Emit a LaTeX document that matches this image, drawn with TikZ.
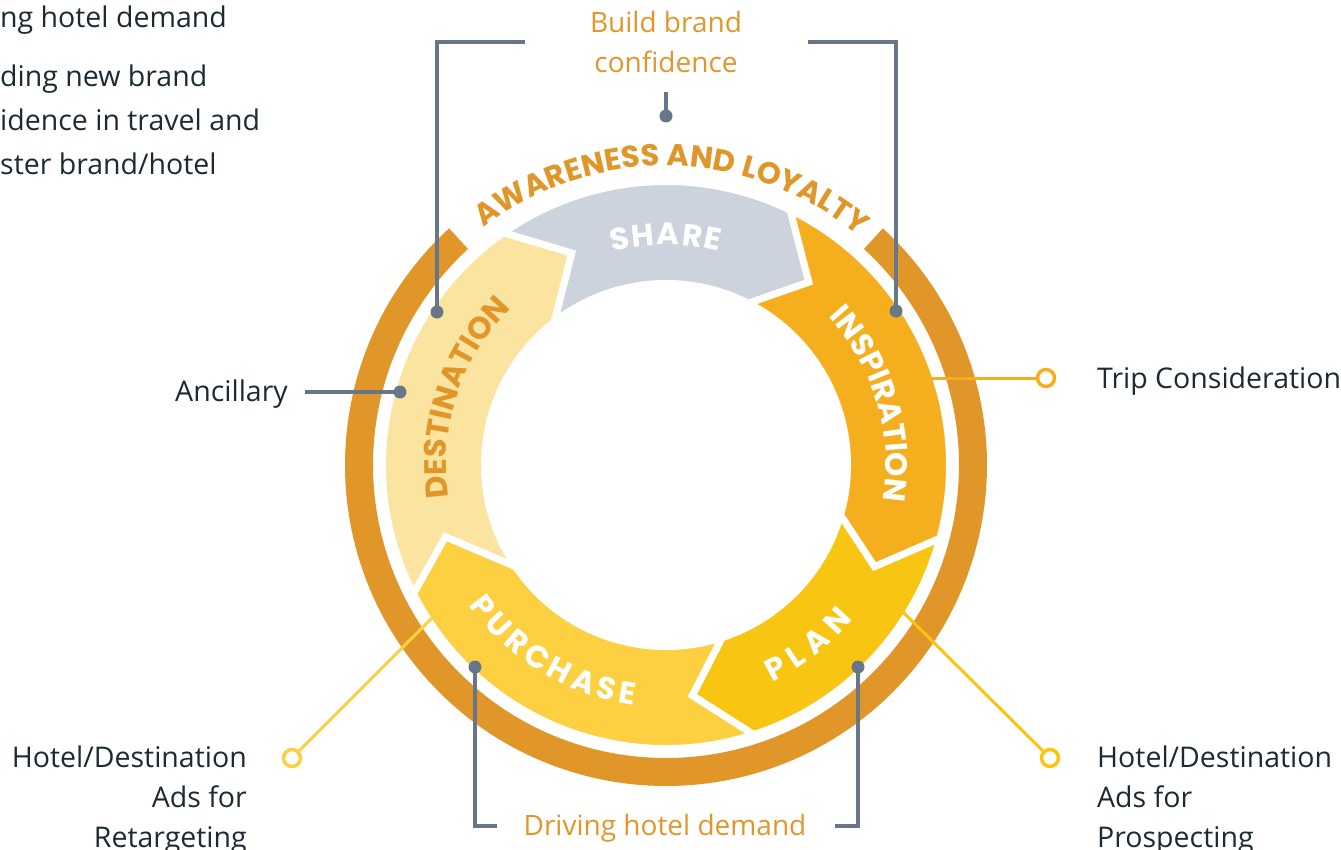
\documentclass[tikz,border=0pt]{standalone}
\usepackage{fontspec}
\setmainfont{Open Sans}
\newfontfamily\geofont{Poppins}
\usetikzlibrary{decorations.text}

\definecolor{ringor}{HTML}{E1962A}
\definecolor{sharec}{HTML}{CCD3DC}
\definecolor{inspc}{HTML}{F5AF1E}
\definecolor{planc}{HTML}{F9C513}
\definecolor{purchc}{HTML}{FDD042}
\definecolor{destc}{HTML}{FBE4A0}
\definecolor{slate}{HTML}{677689}
\definecolor{ink}{HTML}{1C2B33}

% one chevron segment of the cycle:
% #1 colour, #2-#4 outer/tip/inner angle of its start edge, #5-#7 of its end edge
\newcommand\cyclesegment[7]{%
  \filldraw[segshape, fill=#1]
    (#2:283.5pt) arc[start angle=#2, end angle=#5, radius=283.5pt]
    -- (#6:232pt) -- (#7:181.5pt)
    arc[start angle=#7, end angle=#4, radius=181.5pt]
    -- (#3:232pt) -- cycle;}

\newcommand\arcfont{\fontsize{31}{31}\selectfont\geofont\bfseries}
\newcommand\awfont{\fontsize{30.5}{30.5}\selectfont\geofont\bfseries}

\begin{document}
\begin{tikzpicture}[x=1pt,y=1pt,
  segshape/.style={draw=white, line width=7pt, line join=miter},
  gline/.style={draw=slate, line width=4.5pt},
  gdot/.style={circle, fill=slate, inner sep=0pt, minimum size=13pt},
  yline/.style={line width=3pt},
  ymark/.style={circle, draw, fill=white, line width=3.5pt, inner sep=0pt, minimum size=17pt},
  lbl/.style={font=\fontsize{28.5}{40}\selectfont, text=ink, inner sep=0pt},
  orlbl/.style={font=\fontsize{28}{40}\selectfont, text=ringor, inner sep=0pt},
  arclabel/.style={decorate, decoration={text along path, text align=fit to path, text color=#1}},
]
\useasboundingbox (-666,-384) rectangle (675,465);

% the five stages
\cyclesegment{sharec}{125}{114}{128}{64}{52}{63}
\cyclesegment{inspc}{64}{52}{63}{-15}{-26}{-16}
\cyclesegment{planc}{-15}{-26}{-16}{-72}{-83.5}{-72}
\cyclesegment{purchc}{-72}{-83.5}{-72}{-153}{-162}{-146}
\cyclesegment{destc}{-153}{-162}{-146}{-235}{-246}{-232}

% outer ring, open at the top
\fill[ringor] (132.5:321pt) arc[start angle=132.5, end angle=407.5, radius=321pt]
  -- (407.5:293pt) arc[start angle=407.5, end angle=132.5, radius=293pt] -- cycle;

% stage names
\path[arclabel=white, decoration={text={|\arcfont|SHARE}}]
  (104:220pt) arc[start angle=104, end angle=76, radius=220pt];
\path[arclabel=white, decoration={text={|\arcfont|INSPIRATION}}]
  (42.4:220pt) arc[start angle=42.4, end angle=-8.7, radius=220pt];
\path[arclabel=ringor, decoration={text={|\arcfont|DESTINATION}}]
  (188.5:220pt) arc[start angle=188.5, end angle=134.5, radius=220pt];
\path[arclabel=white, decoration={text={|\arcfont|PLAN}}]
  (-64:242pt) arc[start angle=-64, end angle=-39.5, radius=242pt];
\path[arclabel=white, decoration={text={|\arcfont|PURCHASE}}]
  (-144.5:242pt) arc[start angle=-144.5, end angle=-97.5, radius=242pt];
\path[arclabel=ringor, decoration={text={|\awfont|AWARENESS AND LOYALTY}}]
  (127.6:299pt) arc[start angle=127.6, end angle=50.5, radius=299pt];

% text labels (multi-line nodes sit on the baseline of their last line)
\node[lbl, anchor=base west] (tl1) at (-666,437) {ng hotel demand};
\node[lbl, anchor=base west, align=left, font=\fontsize{28.5}{44}\selectfont] (tl2) at (-666,290)
  {ding new brand\\idence in travel and\\ster brand/hotel};
\node[orlbl, anchor=base, align=center] (build) at (0,392) {Build brand\\confidence};
\node[orlbl, anchor=base] (drive) at (-1,-370) {Driving hotel demand};
\node[lbl, anchor=base east] (anc) at (-378,64) {Ancillary};
\node[lbl, anchor=base west] (trip) at (431,77) {Trip Consideration};
\node[lbl, anchor=base east, align=right] (ret) at (-419,-382) {Hotel/Destination\\Ads for\\Retargeting};
\node[lbl, anchor=base west, align=left] (pro) at (431,-382) {Hotel/Destination\\Ads for\\Prospecting};

% yellow call-outs
\coordinate (tripA) at (266,87);
\node[ymark, draw=inspc] (tripO) at (380,87) {};
\draw[yline, inspc] (tripA) -- (tripO);
\coordinate (retA) at (-234,-153);
\node[ymark, draw=purchc] (retO) at (-374,-293) {};
\draw[yline, purchc] (retA) -- (retO);
\coordinate (proA) at (237,-147);
\node[ymark, draw=planc] (proO) at (384,-293) {};
\draw[yline, planc] (proA) -- (proO);

% grey brackets and pins
\coordinate (tlend) at (-141,423);
\coordinate (trend) at (142,423);
\coordinate (stubtop) at (0,373);
\coordinate (blend) at (-169,-361);
\coordinate (brend) at (169,-361);
\coordinate (ancA) at (-361,73);
\draw[gline] (tlend) -| (-229,153);
\draw[gline] (trend) -| (230,154);
\draw[gline] (stubtop) -- (0,349);
\draw[gline] (-191,-202) |- (blend);
\draw[gline] (192,-202) |- (brend);
\draw[gline] (ancA) -- (-266,73);
\node[gdot] (dTL) at (-229,153) {};
\node[gdot] (dTR) at (230,154) {};
\node[gdot] (dTop) at (0,349) {};
\node[gdot] (dBL) at (-191,-202) {};
\node[gdot] (dBR) at (192,-202) {};
\node[gdot] (dAnc) at (-266,73) {};
\end{tikzpicture}
\end{document}
